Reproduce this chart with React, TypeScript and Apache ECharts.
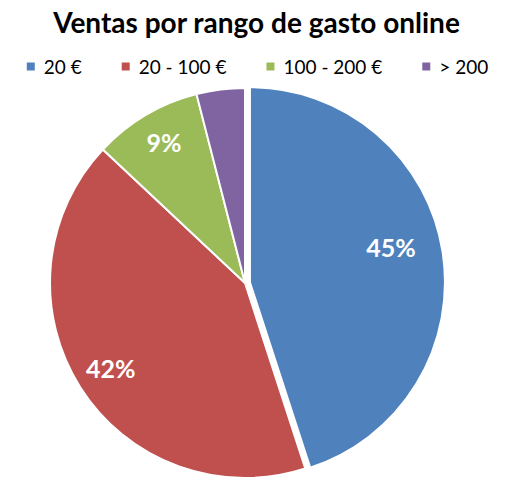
import React, { useEffect, useRef } from "react";
import * as echarts from "echarts";

const categories = ["20 €", "20 - 100 €", "100 - 200 €", "> 200"];
const values = [45, 42, 9, 4];
const labels = ["45%", "42%", "9%", ""];
const colors = ["#4F81BD", "#C0504D", "#9BBB59", "#8064A2"];
const titleText = "Ventas por rango de gasto online";

export default function App() {
  const ref = useRef<HTMLDivElement>(null);
  useEffect(() => {
    document.body.style.margin = "0";
    const chart = echarts.init(ref.current!, null, { renderer: "svg" });
    const font = "Lato, 'Open Sans', sans-serif";
    const center = [245, 283];
    const r = 195;
    chart.setOption({
      animation: false,
      color: colors,
      title: {
        text: titleText,
        left: "center",
        top: 3,
        textStyle: { fontFamily: font, fontSize: 28, fontWeight: "bold", color: "#000" },
      },
      legend: {
        top: 52,
        left: "center",
        icon: "rect",
        itemWidth: 10,
        itemHeight: 10,
        itemGap: 38,
        textStyle: { fontFamily: font, fontSize: 19, color: "#000", padding: [0, 0, 0, 3] },
        data: categories,
        selectedMode: false,
      },
      series: [
        {
          type: "pie",
          center,
          radius: [0, r],
          startAngle: 90,
          clockwise: true,
          selectedMode: "single",
          selectedOffset: 5,
          silent: true,
          itemStyle: { borderColor: "#fff", borderWidth: 2 },
          label: { show: false },
          labelLine: { show: false },
          emphasis: { disabled: true },
          data: categories.map((c, i) => ({ name: c, value: values[i], selected: i === 0 })),
        },
        {
          type: "pie",
          center,
          radius: [r * 0.6, r],
          startAngle: 90,
          clockwise: true,
          selectedMode: false,
          silent: true,
          itemStyle: { color: "rgba(0,0,0,0)", borderWidth: 0 },
          label: {
            show: true,
            position: "inside",
            color: "#fff",
            fontFamily: font,
            fontSize: 25,
            fontWeight: "bold",
            formatter: (p: any) => labels[p.dataIndex],
          },
          labelLine: { show: false },
          emphasis: { disabled: true },
          legendHoverLink: false,
          data: categories.map((c, i) => ({
            name: c + " ",
            value: values[i],
            label: i === 0 ? { offset: [-11, -11] } : i === 2 ? { offset: [0, -4] } : {},
          })),
        },
      ],
    });
    return () => chart.dispose();
  }, []);
  return <div ref={ref} style={{ width: 513, height: 496 }} />;
}
